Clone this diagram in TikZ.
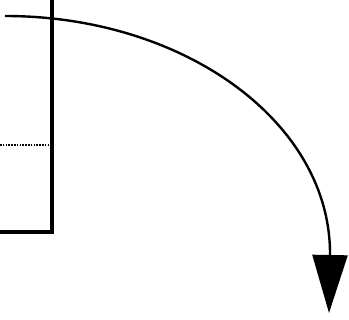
\documentclass[tikz,border=0pt]{standalone}
\usepackage{tikz}
\usetikzlibrary{arrows.meta}

\begin{document}
\begin{tikzpicture}[x=1pt, y=-1pt,
    wall/.style={line width=4pt, black, line cap=rect},
    level/.style={line width=2pt, black, dash pattern=on 1.5pt off 1.3pt},
    swing/.style={line width=2.4pt, black, -{Triangle[length=58pt, width=35pt]}}
]
    \useasboundingbox (0,0) rectangle (349,320);

    % box edge, cut off on the left
    \coordinate (top) at (52,0);
    \coordinate (corner) at (52,232);
    \coordinate (foot) at (0,232);
    \draw[wall] (top) -- (corner) -- (foot);

    % dotted level
    \coordinate (lvlL) at (0,145);
    \coordinate (lvlR) at (50,145);
    \draw[level] (lvlL) -- (lvlR);

    % curved arrow
    \coordinate (start) at (5,16);
    \coordinate (bend) at (330,255);
    \coordinate (tip) at (329,313);
    \draw[swing] (start) .. controls (185,16) and (331,123) .. (bend) -- (tip);
\end{tikzpicture}
\end{document}
